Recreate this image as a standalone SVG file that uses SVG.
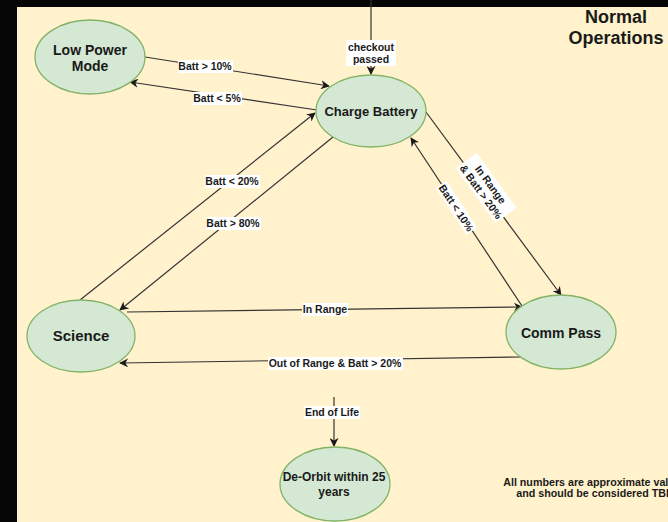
<svg xmlns="http://www.w3.org/2000/svg" width="668" height="522" viewBox="0 0 668 522">
<style>
.bg{fill:#fff2cc}
.node ellipse{fill:#d5e8d4;stroke:#82b366;stroke-width:1.3}
.nt{font-family:"Liberation Sans",Arial,sans-serif;font-weight:bold;font-size:14px;fill:#1a1a1a;text-anchor:middle}
.edge{fill:none;stroke:#333;stroke-width:1.2}
.lb{fill:#fff}
.lt{font-family:"Liberation Sans",Arial,sans-serif;font-weight:bold;font-size:10.5px;fill:#1a1a1a;text-anchor:middle}
.title{font-family:"Liberation Sans",Arial,sans-serif;font-weight:bold;font-size:18px;fill:#1a1a1a;text-anchor:middle}
.note{font-family:"Liberation Sans",Arial,sans-serif;font-weight:bold;font-size:10.7px;fill:#1a1a1a;text-anchor:middle}
</style>
<defs>
<marker id="arr" viewBox="0 0 10 10" refX="9" refY="5" markerWidth="9" markerHeight="9" markerUnits="userSpaceOnUse" orient="auto">
<path d="M0,0 L10,5 L0,10 L3,5 z" fill="#1a1a1a"/>
</marker>
</defs>
<rect class="bg" x="0" y="0" width="668" height="522"/>
<rect x="0" y="0" width="668" height="7" fill="#050505"/>
<rect x="0" y="0" width="17" height="522" fill="#050505"/>

<g id="edges">
<line class="edge" x1="371" y1="0" x2="371" y2="74" marker-end="url(#arr)"/>
<line class="edge" x1="145" y1="57" x2="329" y2="86" marker-end="url(#arr)"/>
<line class="edge" x1="317" y1="110" x2="130" y2="82" marker-end="url(#arr)"/>
<line class="edge" x1="80" y1="300" x2="315" y2="113" marker-end="url(#arr)"/>
<line class="edge" x1="333" y1="137" x2="120" y2="310" marker-end="url(#arr)"/>
<line class="edge" x1="426" y1="112" x2="561" y2="295" marker-end="url(#arr)"/>
<line class="edge" x1="522" y1="306" x2="411" y2="138" marker-end="url(#arr)"/>
<line class="edge" x1="127" y1="312" x2="522" y2="307" marker-end="url(#arr)"/>
<line class="edge" x1="523" y1="357" x2="120" y2="363" marker-end="url(#arr)"/>
<line class="edge" x1="334" y1="397" x2="334" y2="446" marker-end="url(#arr)"/>

<rect class="lb" x="346" y="40" width="50" height="26"/>
<text class="lt" x="371" y="51">checkout</text>
<text class="lt" x="371" y="63">passed</text>

<rect class="lb" x="178" y="60" width="55" height="13"/>
<text class="lt" x="205" y="70">Batt &gt; 10%</text>

<rect class="lb" x="193" y="92" width="49" height="13"/>
<text class="lt" x="217" y="102">Batt &lt; 5%</text>

<rect class="lb" x="205" y="175" width="55" height="13"/>
<text class="lt" x="232" y="185">Batt &lt; 20%</text>

<rect class="lb" x="206" y="217" width="55" height="13"/>
<text class="lt" x="233" y="227">Batt &gt; 80%</text>

<rect class="lb" x="302" y="303" width="46" height="13"/>
<text class="lt" x="325" y="313">In Range</text>

<rect class="lb" x="268" y="357" width="135" height="13"/>
<text class="lt" x="335" y="367">Out of Range &amp; Batt &gt; 20%</text>

<rect class="lb" x="304" y="406" width="56" height="13"/>
<text class="lt" x="332" y="416">End of Life</text>

<g transform="translate(486,188) rotate(54)">
<rect class="lb" x="-34" y="-13" width="68" height="26"/>
<text class="lt" x="0" y="-2">In Range</text>
<text class="lt" x="0" y="10">&amp; Batt &gt; 20%</text>
</g>

<g transform="translate(456,208) rotate(56.5)">
<rect class="lb" x="-28" y="-7" width="56" height="13"/>
<text class="lt" x="0" y="3.5">Batt &lt; 10%</text>
</g>
</g>

<g id="low-power" class="node">
<ellipse cx="90" cy="57" rx="55" ry="37"/>
<text class="nt" x="90" y="55">Low Power</text>
<text class="nt" x="90" y="71">Mode</text>
</g>
<g id="charge-battery" class="node">
<ellipse cx="371" cy="111" rx="55" ry="36"/>
<text class="nt" x="371" y="116" style="font-size:13px">Charge Battery</text>
</g>
<g id="science" class="node">
<ellipse cx="81" cy="336" rx="54" ry="36"/>
<text class="nt" x="81" y="341" style="font-size:15px">Science</text>
</g>
<g id="comm-pass" class="node">
<ellipse cx="561" cy="332" rx="55" ry="37"/>
<text class="nt" x="561" y="338">Comm Pass</text>
</g>
<g id="de-orbit" class="node">
<ellipse cx="335" cy="484" rx="55" ry="37"/>
<text class="nt" x="334" y="481" style="font-size:12px">De-Orbit within 25</text>
<text class="nt" x="334" y="496" style="font-size:12px">years</text>
</g>

<text class="title" x="616" y="23">Normal</text>
<text class="title" x="616" y="44">Operations</text>

<text class="note" x="595" y="486">All numbers are approximate values</text>
<text class="note" x="595" y="497">and should be considered TBD</text>
</svg>
